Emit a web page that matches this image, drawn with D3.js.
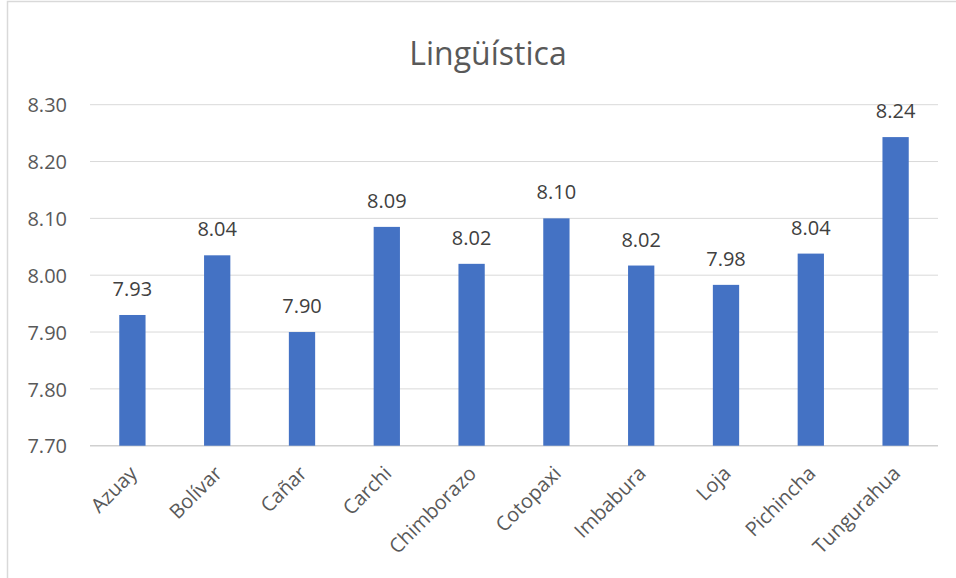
<!DOCTYPE html>
<html>
<head>
<meta charset="utf-8">
<script src="https://cdn.jsdelivr.net/npm/d3@7"></script>
<style>
  html, body { margin: 0; padding: 0; background: #fff; }
  svg { display: block; font-family: "Open Sans", sans-serif; }
</style>
</head>
<body>
<svg width="956" height="578"></svg>
<script>
// datos
const provincias = ["Azuay", "Bolívar", "Cañar", "Carchi", "Chimborazo", "Cotopaxi", "Imbabura", "Loja", "Pichincha", "Tungurahua"];
const valores = [7.93, 8.035, 7.90, 8.085, 8.02, 8.10, 8.017, 7.983, 8.038, 8.243];
const ticksY = [7.70, 7.80, 7.90, 8.00, 8.10, 8.20, 8.30];
const titulo = "Lingüística";

const svg = d3.select("svg");

// borde del área del gráfico
svg.append("rect")
    .attr("x", 7.5).attr("y", 1.5)
    .attr("width", 970).attr("height", 600)
    .attr("fill", "none")
    .attr("stroke", "#d9d9d9")
    .attr("stroke-width", 1.5);

const plotLeft = 90, plotRight = 938, plotTop = 104.7, plotBottom = 445.7;

const x = d3.scaleBand()
    .domain(provincias)
    .range([plotLeft, plotRight])
    .paddingInner(0.69)
    .paddingOuter(0.345);

const y = d3.scaleLinear()
    .domain([7.70, 8.30])
    .range([plotBottom, plotTop]);

// líneas de cuadrícula
svg.append("g")
    .selectAll("line")
    .data(ticksY)
    .enter().append("line")
    .attr("x1", plotLeft).attr("x2", plotRight)
    .attr("y1", d => y(d)).attr("y2", d => y(d))
    .attr("stroke", d => d === 7.70 ? "#d0d0d0" : "#d9d9d9")
    .attr("stroke-width", d => d === 7.70 ? 1.5 : 1);

// etiquetas del eje Y
const yAxis = d3.axisLeft(y).tickValues(ticksY).tickFormat(d3.format(".2f")).tickSize(0).tickPadding(0);
const gy = svg.append("g")
    .attr("transform", "translate(67,0)")
    .call(yAxis);
gy.select(".domain").remove();
gy.selectAll("text")
    .attr("fill", "#595959")
    .style("font-size", "20px")
    .style("font-family", "'Open Sans', sans-serif")
    .attr("dy", "0.36em");

// barras
svg.append("g")
    .selectAll("rect")
    .data(valores)
    .enter().append("rect")
    .attr("x", (d, i) => x(provincias[i]))
    .attr("width", x.bandwidth())
    .attr("y", d => y(d))
    .attr("height", d => plotBottom - y(d))
    .attr("fill", "#4472c4");

// etiquetas de valor
svg.append("g")
    .selectAll("text")
    .data(valores)
    .enter().append("text")
    .attr("x", (d, i) => x(provincias[i]) + x.bandwidth() / 2)
    .attr("y", d => y(d) - 19)
    .attr("text-anchor", "middle")
    .attr("fill", "#404040")
    .style("font-size", "20px")
    .text(d => d3.format(".2f")(d));

// etiquetas del eje X, rotadas
svg.append("g")
    .selectAll("text")
    .data(provincias)
    .enter().append("text")
    .attr("transform", d => "translate(" + (x(d) + x.bandwidth() / 2 + 6) + "," + (plotBottom + 29) + ") rotate(-45)")
    .attr("text-anchor", "end")
    .attr("fill", "#595959")
    .style("font-size", "20px")
    .text(d => d);

// título
svg.append("text")
    .attr("x", 488)
    .attr("y", 65)
    .attr("text-anchor", "middle")
    .attr("fill", "#595959")
    .style("font-size", "32px")
    .text(titulo);
</script>
</body>
</html>
